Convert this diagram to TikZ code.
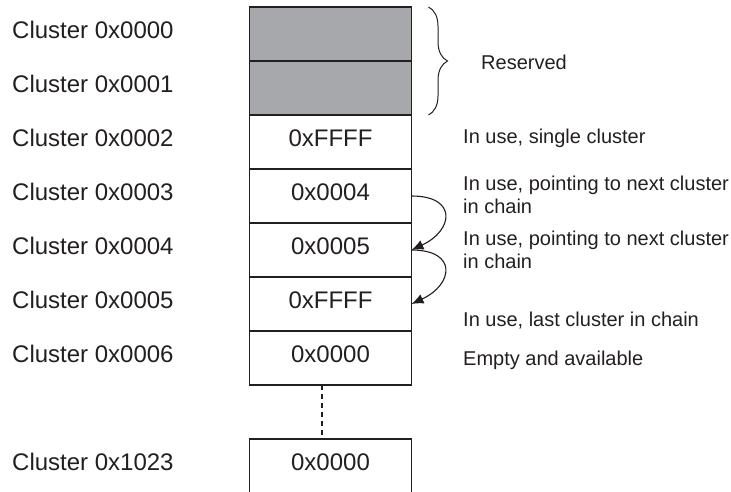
\documentclass[tikz,border=0pt]{standalone}
\usepackage{fontspec}
\setmainfont{Liberation Sans}
\usetikzlibrary{arrows.meta,positioning,decorations.pathreplacing}
\definecolor{resgray}{RGB}{167,168,172}
\definecolor{ink}{RGB}{35,31,32}
\tikzset{
  cell/.style={draw=ink, line width=1.2pt, minimum width=162pt, minimum height=54pt,
    inner sep=0pt, outer sep=0pt, font=\fontsize{24}{28}\selectfont,
    text height=17pt, text depth=8pt, text=ink},
  reserved/.style={cell, fill=resgray},
  clname/.style={anchor=west, inner sep=0pt, font=\fontsize{24}{28}\selectfont,
    text height=17pt, text depth=8pt, text=ink},
  note/.style={anchor=base west, inner sep=0pt, font=\fontsize{20}{23}\selectfont,
    align=left, text=ink},
  link/.style={-{Latex[length=12pt,width=10pt]}, line width=1.1pt, ink},
  resbrace/.style={decorate, decoration={brace, amplitude=19pt}, line width=1pt, ink}
}

\begin{document}
\begin{tikzpicture}[x=1pt,y=-1pt]
  \useasboundingbox (0,0) rectangle (731,492);
  \coordinate (lx) at (12,0);
  \coordinate (dx) at (322,0);
  % the table
  \node[reserved] (c0) at (330.5,34) {};
  \node[reserved, below=0pt of c0] (c1) {};
  \node[cell, below=0pt of c1] (c2) {0xFFFF};
  \node[cell, below=0pt of c2] (c3) {0x0004};
  \node[cell, below=0pt of c3] (c4) {0x0005};
  \node[cell, below=0pt of c4] (c5) {0xFFFF};
  \node[cell, below=0pt of c5] (c6) {0x0000};
  \node[cell] (cN) at (330.5,466) {0x0000};
  \draw[ink, line width=1.2pt, dash pattern=on 5pt off 4pt] (c6.south -| dx) -- (cN.north -| dx);
  % cluster numbers
  \node[clname] (n0) at (c0 -| lx) {Cluster 0x0000};
  \node[clname] (n1) at (c1 -| lx) {Cluster 0x0001};
  \node[clname] (n2) at (c2 -| lx) {Cluster 0x0002};
  \node[clname] (n3) at (c3 -| lx) {Cluster 0x0003};
  \node[clname] (n4) at (c4 -| lx) {Cluster 0x0004};
  \node[clname] (n5) at (c5 -| lx) {Cluster 0x0005};
  \node[clname] (n6) at (c6 -| lx) {Cluster 0x0006};
  \node[clname] (nN) at (cN -| lx) {Cluster 0x1023};
  % chain
  \draw[link] (c3.east) to[out=0,in=25,looseness=2.2] (c4.east);
  \draw[link] (c4.east) to[out=0,in=25,looseness=2.2] (c5.east);
  \draw[resbrace] ([xshift=17pt]c0.north east) -- ([xshift=17pt]c1.south east);
  % meanings
  \node[note] (r0) at (481,70) {Reserved};
  \node[note] (r2) at (463,143) {In use, single cluster};
  \node[note] (r3) at (463,213) {In use, pointing to next cluster\\in chain};
  \node[note] (r4) at (463,268) {In use, pointing to next cluster\\in chain};
  \node[note] (r5) at (463,326) {In use, last cluster in chain};
  \node[note] (r6) at (463,365) {Empty and available};
\end{tikzpicture}
\end{document}
